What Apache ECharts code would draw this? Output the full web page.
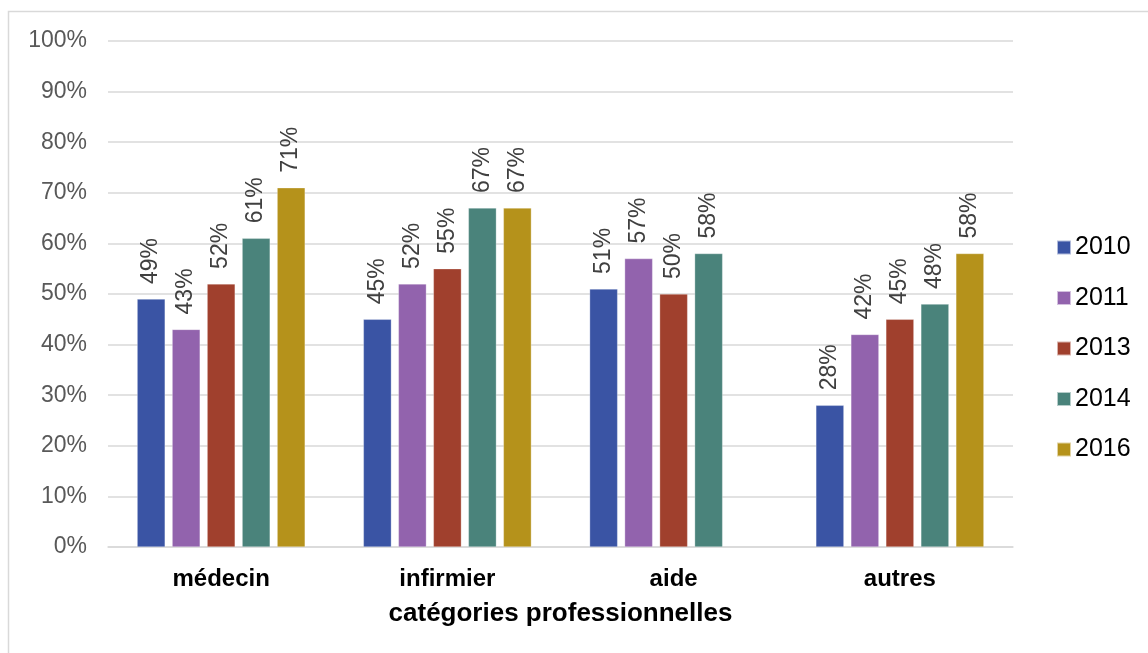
<!DOCTYPE html>
<html>
<head>
<meta charset="utf-8">
<script src="https://cdn.jsdelivr.net/npm/echarts@6/dist/echarts.min.js"></script>
<style>html,body{margin:0;padding:0;background:#fff;}#c{width:1148px;height:653px;}</style>
</head>
<body>
<div id="c"></div>
<script>
const categories = ['médecin', 'infirmier', 'aide', 'autres'];
const seriesNames = ['2010', '2011', '2013', '2014', '2016'];
const v2010 = [49, 45, 51, 28];
const v2011 = [43, 52, 57, 42];
const v2013 = [52, 55, 50, 45];
const v2014 = [61, 67, 58, 48];
const v2016 = [71, 67, null, 58];
const yTicks = [0, 10, 20, 30, 40, 50, 60, 70, 80, 90, 100];
const axisName = 'catégories professionnelles';

const values = [v2010, v2011, v2013, v2014, v2016];
const colors = ['#3A54A4', '#9263AD', '#A0402D', '#4A837B', '#B5921B'];
const font = '"Liberation Sans", Arial, sans-serif';

const chart = echarts.init(document.getElementById('c'), null, {renderer: 'canvas'});
chart.setOption({
  animation: false,
  backgroundColor: '#fff',
  graphic: [{
    type: 'rect', silent: true,
    shape: {x: 8.5, y: 11.5, width: 2000, height: 2000},
    style: {fill: 'none', stroke: '#d9d9d9', lineWidth: 1.5}
  }],
  grid: {left: 108, right: 135, top: 41, bottom: 106, containLabel: false},
  legend: {
    orient: 'vertical', left: 1056, top: 235, padding: 0,
    itemWidth: 14, itemHeight: 14, itemGap: 25.5,
    icon: 'rect',
    data: seriesNames,
    textStyle: {fontFamily: font, fontSize: 25, color: '#000', lineHeight: 25, padding: [0, 0, 0, -1]}
  },
  xAxis: {
    type: 'category', data: categories,
    axisLine: {show: true, lineStyle: {color: '#d9d9d9', width: 1.5}},
    axisTick: {show: false},
    axisLabel: {fontFamily: font, fontSize: 24, fontWeight: 'bold', color: '#000', margin: 20},
    name: axisName, nameLocation: 'middle', nameGap: 54,
    nameTextStyle: {fontFamily: font, fontSize: 26, fontWeight: 'bold', color: '#000'}
  },
  yAxis: {
    type: 'value', min: yTicks[0], max: yTicks[yTicks.length - 1], interval: 10,
    axisLine: {show: false}, axisTick: {show: false},
    splitLine: {lineStyle: {color: '#d9d9d9', width: 1.5}},
    axisLabel: {fontFamily: font, fontSize: 23, color: '#595959', margin: 21, formatter: v => v + '%'}
  },
  series: seriesNames.map((n, i) => ({
    name: n, type: 'bar', data: values[i],
    barWidth: 28, barGap: '25%',
    itemStyle: {color: colors[i], borderColor: 'rgba(255,255,255,0.6)', borderWidth: 0.5},
    label: {
      show: true, position: 'top', rotate: 90, align: 'left', verticalAlign: 'middle',
      distance: 15, fontFamily: font, fontSize: 23, color: '#404040',
      formatter: p => p.value == null ? '' : p.value + '%'
    }
  }))
});
</script>
</body>
</html>
